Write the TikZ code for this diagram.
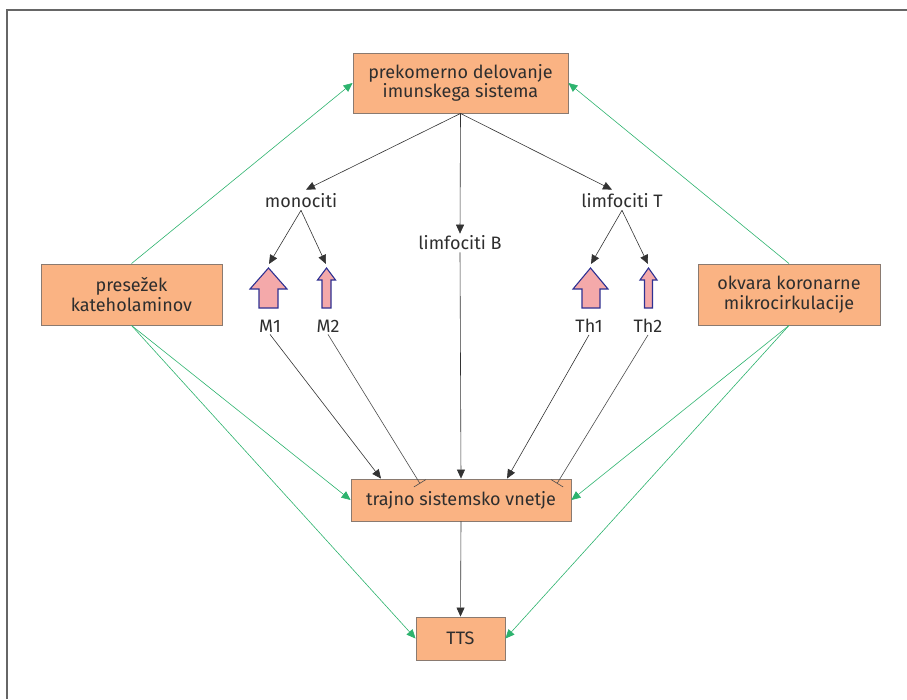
\documentclass[tikz,border=0pt]{standalone}
\usepackage{fontspec}
\setmainfont{Fira Sans}
\usetikzlibrary{arrows.meta}
\definecolor{boxfill}{HTML}{FAB383}
\definecolor{boxline}{HTML}{8A7A70}
\definecolor{txt}{HTML}{2E2E2E}
\definecolor{grn}{HTML}{2DB36E}
\definecolor{pinkf}{HTML}{F4A9AA}
\definecolor{bluel}{HTML}{2E3192}
\tikzset{
  box/.style={draw=boxline, line width=0.9pt, fill=boxfill, text=txt, align=center,
    font=\fontsize{18}{19.5}\selectfont, inner sep=0pt},
  lbl/.style={text=txt, font=\fontsize{18}{20}\selectfont, inner sep=2pt},
  blk/.style={draw=black!80, line width=0.6pt, -{Triangle[length=9pt,width=8pt]}},
  inh/.style={draw=black!70, line width=0.6pt, -{Bar[width=14pt,line width=0.6pt]}},
  grnarr/.style={draw=grn, line width=0.6pt, -{Triangle[length=9pt,width=8pt,fill=grn]}},
  barrow/.style={draw=bluel, fill=pinkf, line width=1.1pt, line join=miter}
}
\begin{document}
\begin{tikzpicture}[x=1pt,y=-1pt]
\useasboundingbox (0,0) rectangle (907,699);
% frame
\draw[black!60, line width=2pt] (7,699) -- (7,10) -- (907,10);

% boxes
\node[box, minimum width=215pt, minimum height=60pt] (top) at (460.5,83)
  {prekomerno delovanje\\imunskega sistema};
\node[box, minimum width=181pt, minimum height=61pt] (left) at (131.5,294.5)
  {presežek\\kateholaminov};
\node[box, minimum width=182pt, minimum height=61pt] (right) at (789,294.5)
  {okvara koronarne\\mikrocirkulacije};
\node[box, minimum width=220pt, minimum height=42pt] (mid) at (461,500)
  {trajno sistemsko vnetje};
\node[box, minimum width=89pt, minimum height=43pt] (tts) at (460.5,638.5)
  {TTS};

% text nodes
\node[lbl] (mono) at (301,201) {monociti};
\node[lbl] (limt) at (622,201) {limfociti T};
\node[lbl] (limb) at (460,243) {limfociti B};
\node[lbl] (m1) at (270,326) {M1};
\node[lbl] (m2) at (328,326) {M2};
\node[lbl] (th1) at (589,326) {Th1};
\node[lbl] (th2) at (648,326) {Th2};

% block arrows
\draw[barrow] (268.5,268) -- (287,289) -- (278,289) -- (278,308) -- (259,308) -- (259,289) -- (250,289) -- cycle;
\draw[barrow] (326.5,268) -- (335.5,280) -- (331,280) -- (331,308) -- (322,308) -- (322,280) -- (317.5,280) -- cycle;
\draw[barrow] (590.5,268) -- (608,289) -- (600,289) -- (600,308) -- (582,308) -- (582,289) -- (573,289) -- cycle;
\draw[barrow] (648.5,268) -- (657,280) -- (652.5,280) -- (652.5,308) -- (644.5,308) -- (644.5,280) -- (640,280) -- cycle;
\coordinate (m1t) at (269,264);
\coordinate (m2t) at (326,264);
\coordinate (th1t) at (591,264);
\coordinate (th2t) at (648,264);

% black connectors
\draw[blk] (top.south) -- ([xshift=5pt,yshift=2pt]mono.north);
\draw[blk] (top.south) -- (limb.north);
\draw[blk] (top.south) -- ([xshift=-10pt,yshift=2pt]limt.north);
\draw[blk] (mono.south) -- (m1t);
\draw[blk] (mono.south) -- (m2t);
\draw[blk] (limt.south) -- (th1t);
\draw[blk] (limt.south) -- (th2t);
\draw[blk] (m1.south) -- ([xshift=-80pt]mid.north);
\draw[inh] (m2.south) -- ([xshift=-41pt,yshift=-5pt]mid.north);
\draw[blk] (limb.south) -- (mid.north);
\draw[blk] (th1.south) -- ([xshift=46pt]mid.north);
\draw[inh] (th2.south) -- ([xshift=96pt,yshift=-5pt]mid.north);
\draw[blk] (mid.south) -- (tts.north);

% green connectors
\draw[grnarr] (left.north) -- (top.west);
\draw[grnarr] (right.north) -- (top.east);
\draw[grnarr] (left.south) -- (mid.west);
\draw[grnarr] (left.south) -- (tts.west);
\draw[grnarr] (right.south) -- (mid.east);
\draw[grnarr] (right.south) -- (tts.east);
\end{tikzpicture}
\end{document}
